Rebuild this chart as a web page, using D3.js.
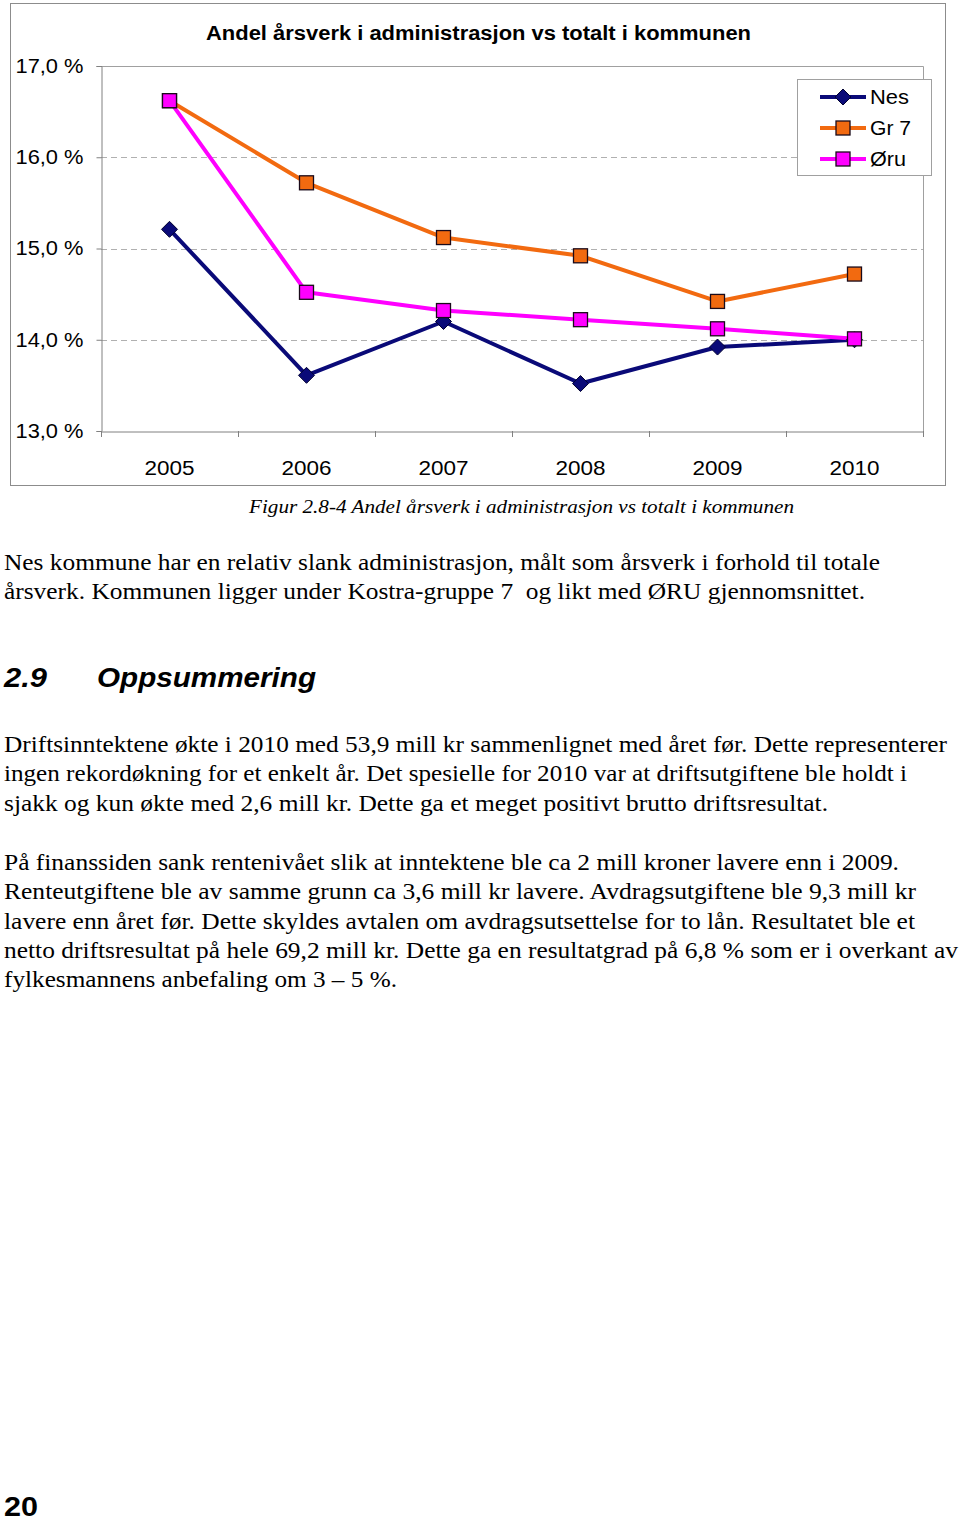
<!DOCTYPE html>
<html><head><meta charset="utf-8">
<script src="https://cdn.jsdelivr.net/npm/d3@7"></script>
<style>body{margin:0;background:#fff}svg{display:block}text{white-space:pre}</style>
</head><body>
<script>
const years = ["2005","2006","2007","2008","2009","2010"];
const nes = [15.21, 13.61, 14.20, 13.52, 13.92, 14.00];
const gr7 = [16.62, 15.72, 15.12, 14.92, 14.42, 14.72];
const oru = [16.62, 14.52, 14.32, 14.22, 14.12, 14.01];
const seriesNames = ["Nes", "Gr 7", "Øru"];
const yTicks = [13, 14, 15, 16, 17];
const title = "Andel årsverk i administrasjon vs totalt i kommunen";
const caption = "Figur 2.8-4 Andel årsverk i administrasjon vs totalt i kommunen";
const para1 = ["Nes kommune har en relativ slank administrasjon, målt som årsverk i forhold til totale",
  "årsverk. Kommunen ligger under Kostra-gruppe 7  og likt med ØRU gjennomsnittet."];
const heading = ["2.9", "Oppsummering"];
const para2 = ["Driftsinntektene økte i 2010 med 53,9 mill kr sammenlignet med året før. Dette representerer",
  "ingen rekordøkning for et enkelt år. Det spesielle for 2010 var at driftsutgiftene ble holdt i",
  "sjakk og kun økte med 2,6 mill kr. Dette ga et meget positivt brutto driftsresultat."];
const para3 = ["På finanssiden sank rentenivået slik at inntektene ble ca 2 mill kroner lavere enn i 2009.",
  "Renteutgiftene ble av samme grunn ca 3,6 mill kr lavere. Avdragsutgiftene ble 9,3 mill kr",
  "lavere enn året før. Dette skyldes avtalen om avdragsutsettelse for to lån. Resultatet ble et",
  "netto driftsresultat på hele 69,2 mill kr. Dette ga en resultatgrad på 6,8 % som er i overkant av",
  "fylkesmannens anbefaling om 3 – 5 %."];
const pageNum = "20";

const W = 960, H = 1521;
const SANS = "Liberation Sans, Arial, sans-serif";
const SERIF = "Liberation Serif, Times New Roman, serif";
const svg = d3.select("body").append("svg").attr("width", W).attr("height", H);
svg.append("rect").attr("width", W).attr("height", H).attr("fill", "#fff");

// horizontal stretch factor seen in the reference rendering
const STRETCH = 1.1;
function stretch(sel) {
  sel.each(function() {
    const w = this.getComputedTextLength();
    d3.select(this).attr("textLength", w * STRETCH).attr("lengthAdjust", "spacingAndGlyphs");
  });
}
function fit(sel, width) {
  sel.attr("textLength", width).attr("lengthAdjust", "spacingAndGlyphs");
}

// chart frame
svg.append("rect").attr("x", 10.5).attr("y", 3.5).attr("width", 935).attr("height", 482)
  .attr("fill", "#fff").attr("stroke", "#8c8c8c").attr("stroke-width", 1);

const L = 101, R = 923, T = 66, B = 431;
const x = d3.scaleBand().domain(years).range([L, R]);
const y = d3.scaleLinear().domain([13, 17]).range([B, T]);
const fmt = v => d3.format(".1f")(v).replace(".", ",") + " %";

// gridlines
svg.append("g").selectAll("line").data(yTicks.filter(v => v > 13 && v < 17)).join("line")
  .attr("x1", L).attr("x2", R).attr("y1", d => Math.round(y(d)) + 0.5).attr("y2", d => Math.round(y(d)) + 0.5)
  .attr("stroke", "#b0b0b0").attr("stroke-dasharray", "6,4");
// top & right border of plot
svg.append("path").attr("d", `M${L},${T + 0.5}H${R + 0.5}V${B}`).attr("fill", "none").attr("stroke", "#a0a0a0");

// y axis
const yAxis = d3.axisLeft(y).tickValues(yTicks).tickSize(5).tickFormat(fmt);
const gy = svg.append("g").attr("transform", `translate(${L + 0.5},0)`).call(yAxis);
gy.select(".domain").attr("stroke", "#808080");
gy.selectAll(".tick line").attr("stroke", "#808080");
gy.selectAll(".tick text").attr("font-family", SANS).attr("font-size", 20)
  .attr("fill", "#000").attr("x", -18).call(fit, 68);

// x axis with ticks between categories
const xAxis = d3.axisBottom(x).tickSize(0).tickSizeOuter(0);
const gx = svg.append("g").attr("transform", `translate(0,${B + 0.5})`).call(xAxis);
gx.select(".domain").attr("stroke", "#808080");
gx.selectAll(".tick text").attr("font-family", SANS).attr("font-size", 20)
  .attr("fill", "#000").attr("dy", 0).attr("y", 43).call(fit, 50);
const boundaries = years.map(d => x(d)).concat([x(years[years.length - 1]) + x.bandwidth()]);
svg.append("g").selectAll("line").data(boundaries).join("line")
  .attr("x1", d => Math.round(d) + 0.5).attr("x2", d => Math.round(d) + 0.5)
  .attr("y1", B).attr("y2", B + 6).attr("stroke", "#808080");

// title
svg.append("text").attr("x", 206).attr("y", 40)
  .attr("font-family", SANS).attr("font-weight", "bold").attr("font-size", 20)
  .text(title).call(fit, 545);

const cx = d => x(d) + x.bandwidth() / 2;
const series = [
  {name: seriesNames[0], vals: nes, color: "#0a0a78", marker: "diamond", w: 39},
  {name: seriesNames[1], vals: gr7, color: "#f26a10", marker: "square", w: 41},
  {name: seriesNames[2], vals: oru, color: "#ff00ff", marker: "square", w: 36}
];
const line = d3.line().x((d, i) => cx(years[i])).y(d => y(d));

function drawMarker(g, type, px, py, color) {
  if (type === "diamond") {
    const s = 8;
    g.append("path").attr("d", `M${px},${py - s}L${px + s},${py}L${px},${py + s}L${px - s},${py}Z`)
      .attr("fill", color).attr("stroke", "#000030").attr("stroke-width", 1);
  } else {
    const s = 14;
    g.append("rect").attr("x", px - s / 2).attr("y", py - s / 2).attr("width", s).attr("height", s)
      .attr("fill", color).attr("stroke", "#1a0a1a").attr("stroke-width", 1.3);
  }
}

series.forEach(s => {
  svg.append("path").datum(s.vals).attr("d", line).attr("fill", "none")
    .attr("stroke", s.color).attr("stroke-width", 4).attr("stroke-linejoin", "round");
});
series.forEach(s => {
  const g = svg.append("g");
  s.vals.forEach((v, i) => drawMarker(g, s.marker, cx(years[i]), y(v), s.color));
});

// legend
svg.append("rect").attr("x", 797.5).attr("y", 79.5).attr("width", 134).attr("height", 96)
  .attr("fill", "#fff").attr("stroke", "#a0a0a0");
series.forEach((s, i) => {
  const ly = 97 + i * 31;
  svg.append("line").attr("x1", 820).attr("x2", 866).attr("y1", ly).attr("y2", ly)
    .attr("stroke", s.color).attr("stroke-width", 4);
  drawMarker(svg.append("g"), s.marker, 843, ly, s.color);
  svg.append("text").attr("x", 870).attr("y", ly + 7).attr("font-family", SANS)
    .attr("font-size", 20).text(s.name).call(fit, s.w);
});

// caption
svg.append("text").attr("x", 249).attr("y", 513)
  .attr("font-family", SERIF).attr("font-style", "italic").attr("font-size", 19)
  .text(caption).call(fit, 545);

function para(lines, widths, y0, lh) {
  svg.append("g").selectAll("text").data(lines).join("text")
    .attr("x", 4).attr("y", (d, i) => y0 + i * lh)
    .attr("font-family", SERIF).attr("font-size", 22.5)
    .text(d => d)
    .each(function(d, i) { d3.select(this).call(fit, widths[i]); });
}
para(para1, [876, 861], 570, 29.3);

svg.append("text").attr("x", 4).attr("y", 687).attr("font-family", SANS)
  .attr("font-weight", "bold").attr("font-style", "italic").attr("font-size", 28).text(heading[0]).call(fit, 43);
svg.append("text").attr("x", 97).attr("y", 687).attr("font-family", SANS)
  .attr("font-weight", "bold").attr("font-style", "italic").attr("font-size", 28).text(heading[1]).call(fit, 219);

para(para2, [943, 903, 824], 752, 29.3);
para(para3, [895, 912, 911, 954, 393], 870, 29.3);

svg.append("text").attr("x", 4).attr("y", 1516).attr("font-family", SANS)
  .attr("font-weight", "bold").attr("font-size", 28).text(pageNum).call(fit, 34);
</script>
</body></html>
